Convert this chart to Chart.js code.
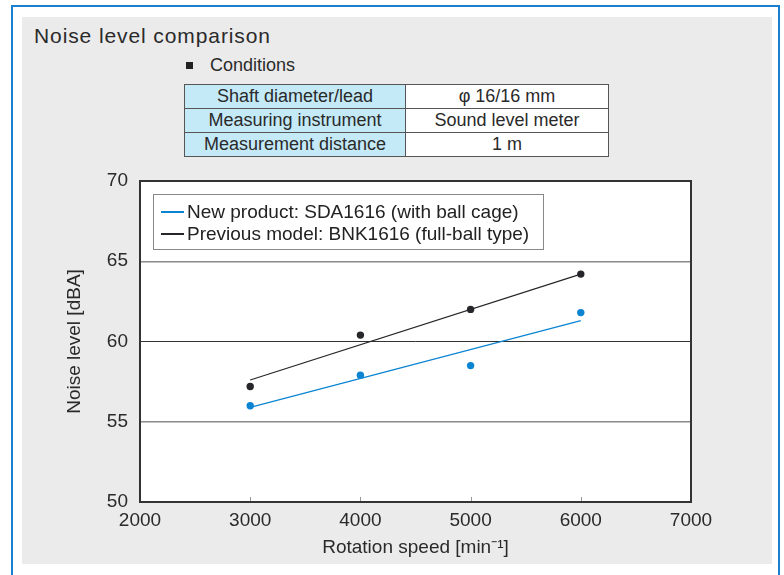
<!DOCTYPE html>
<html>
<head>
<meta charset="utf-8">
<script src="https://cdn.jsdelivr.net/npm/chart.js@4"></script>
<style>
body { margin:0; background:#fff; font-family:"Liberation Sans", Arial, sans-serif; }
#wrap { position:relative; width:784px; height:575px; overflow:hidden; }
#frame { position:absolute; left:11px; top:5px; width:765px; height:580px; border:2px solid #1a7fcf; }
#panel { position:absolute; left:22px; top:17px; width:750px; height:547px; background:#ebebeb; }
#title { position:absolute; left:34px; top:24px; font-size:21px; letter-spacing:0.9px; color:#2a2a2a; }
#cond { position:absolute; left:186px; top:55px; font-size:18px; color:#2a2a2a; }
#cond span { display:inline-block; width:7px; height:7px; background:#222; margin-right:17px; vertical-align:2px; }
#tbl { position:absolute; left:184px; top:84px; border-collapse:collapse; font-size:18px; color:#2a2a2a; }
#tbl td { border:1px solid #555; height:23px; padding:0; text-align:center; line-height:23px; }
#tbl td.k { background:#c4e9f7; width:220px; }
#tbl td.v { background:#fff; width:202px; }
canvas { position:absolute; left:0; top:0; }
</style>
</head>
<body>
<div id="wrap">
  <div id="frame"></div>
  <div id="panel"></div>
  <div id="title">Noise level comparison</div>
  <div id="cond"><span></span>Conditions</div>
  <table id="tbl"></table>
  <canvas id="noiseChart" width="784" height="575"></canvas>
</div>
<script>
var condLabels = ["Shaft diameter/lead", "Measuring instrument", "Measurement distance"];
var condValues = ["\u03c6 16/16 mm", "Sound level meter", "1 m"];

var speeds = [3000, 4000, 5000, 6000];
var newProduct = [56.0, 57.9, 58.5, 61.8];
var previousModel = [57.2, 60.4, 62.0, 64.2];
var trendSpeeds = [3000, 6000];
var newTrend = [55.9, 61.3];
var previousTrend = [57.6, 64.2];
var seriesNames = ["New product: SDA1616 (with ball cage)", "Previous model: BNK1616 (full-ball type)"];
var xTicks = [2000, 3000, 4000, 5000, 6000, 7000];
var yTicks = [50, 55, 60, 65, 70];

var blue = "#0b84d2";
var black = "#26262b";
var fontFam = "'Liberation Sans', Arial, sans-serif";

for (var i = 0; i < condLabels.length; ++i) {
	document.getElementById("tbl").insertAdjacentHTML("beforeend",
		"<tr><td class='k'>" + condLabels[i] + "</td><td class='v'>" + condValues[i] + "</td></tr>");
}

function pts(xs, ys) {
	var out = [];
	for (var i = 0; i < xs.length; ++i) out.push({x: xs[i], y: ys[i]});
	return out;
}

var data = {
	datasets: [
		{label: seriesNames[0], data: pts(trendSpeeds, newTrend), showLine: true, borderColor: blue, borderWidth: 1.2, pointRadius: 0},
		{label: seriesNames[1], data: pts(trendSpeeds, previousTrend), showLine: true, borderColor: black, borderWidth: 1.2, pointRadius: 0},
		{label: "new pts", data: pts(speeds, newProduct), showLine: false, backgroundColor: blue, borderWidth: 0, pointRadius: 3.7},
		{label: "prev pts", data: pts(speeds, previousModel), showLine: false, backgroundColor: black, borderWidth: 0, pointRadius: 3.7}
	]
};

// plot frame, inner x ticks and the in-plot legend
var framePlugin = {
	id: "frame",
	beforeDatasetsDraw: function(chart) {
		var ctx = chart.ctx, a = chart.chartArea, xs = chart.scales.x;
		ctx.save();
		ctx.strokeStyle = "#999";
		ctx.lineWidth = 1;
		for (var i = 1; i < xTicks.length - 1; ++i) {
			var px = Math.round(xs.getPixelForValue(xTicks[i])) + 0.5;
			ctx.beginPath();
			ctx.moveTo(px, a.bottom);
			ctx.lineTo(px, a.bottom - 5);
			ctx.stroke();
		}
		ctx.restore();
	},
	afterDraw: function(chart) {
		var ctx = chart.ctx, a = chart.chartArea;
		ctx.save();
		ctx.strokeStyle = "#333";
		ctx.lineWidth = 2;
		ctx.strokeRect(a.left, a.top, a.right - a.left, a.bottom - a.top);
		// legend
		var lx = a.left + 13, ly = a.top + 13;
		ctx.fillStyle = "#fff";
		ctx.fillRect(lx, ly, 390, 55);
		ctx.strokeStyle = "#888";
		ctx.lineWidth = 1;
		ctx.strokeRect(lx + 0.5, ly + 0.5, 390, 55);
		ctx.font = "19px " + fontFam;
		ctx.textBaseline = "middle";
		var cols = [blue, black];
		for (var i = 0; i < seriesNames.length; ++i) {
			var yy = ly + 18 + i * 22;
			ctx.strokeStyle = cols[i];
			ctx.lineWidth = 2;
			ctx.beginPath();
			ctx.moveTo(lx + 8, yy);
			ctx.lineTo(lx + 31, yy);
			ctx.stroke();
			ctx.fillStyle = "#222";
			ctx.fillText(seriesNames[i], lx + 34, yy + 1);
		}
		ctx.restore();
	}
};

var plotBg = {
	id: "plotBg",
	beforeDraw: function(chart) {
		var a = chart.chartArea;
		chart.ctx.save();
		chart.ctx.fillStyle = "#fff";
		chart.ctx.fillRect(a.left, a.top, a.right - a.left, a.bottom - a.top);
		chart.ctx.restore();
	}
};

var config = {
	type: "scatter",
	data: data,
	options: {
		responsive: false,
		animation: false,
		layout: {padding: {left: 60, top: 181, right: 93, bottom: 12}},
		plugins: {legend: {display: false}, tooltip: {enabled: false}},
		scales: {
			x: {
				type: "linear", min: 2000, max: 7000,
				afterBuildTicks: function(s) { s.ticks = xTicks.map(function(v) { return {value: v}; }); },
				afterFit: function(s) { s.height = 61; },
				grid: {display: false},
				border: {display: false},
				ticks: {color: "#2a2a2a", font: {size: 19, family: fontFam}, padding: -1, maxRotation: 0,
					callback: function(v) { return String(v); }},
				title: {display: true, text: "Rotation speed [min\u207b\u00b9]", color: "#2a2a2a", font: {size: 19, family: fontFam}, padding: {top: 4}}
			},
			y: {
				min: 50, max: 70,
				afterBuildTicks: function(s) { s.ticks = yTicks.map(function(v) { return {value: v}; }); },
				afterFit: function(s) { s.width = 80; },
				grid: {
					color: function(c) { return c.tick && c.tick.value === 60 ? "#333" : "#8a8a8a"; },
					lineWidth: function(c) { return c.tick && c.tick.value === 60 ? 1 : 1.5; },
					drawTicks: false
				},
				border: {display: false},
				ticks: {color: "#2a2a2a", font: {size: 19, family: fontFam}, padding: 12},
				title: {display: true, text: "Noise level [dBA]", color: "#2a2a2a", font: {size: 19, family: fontFam}, padding: {top: 3, bottom: 0}}
			}
		}
	},
	plugins: [plotBg, framePlugin]
};

var noiseChart = new Chart(document.getElementById("noiseChart"), config);
</script>
</body>
</html>
